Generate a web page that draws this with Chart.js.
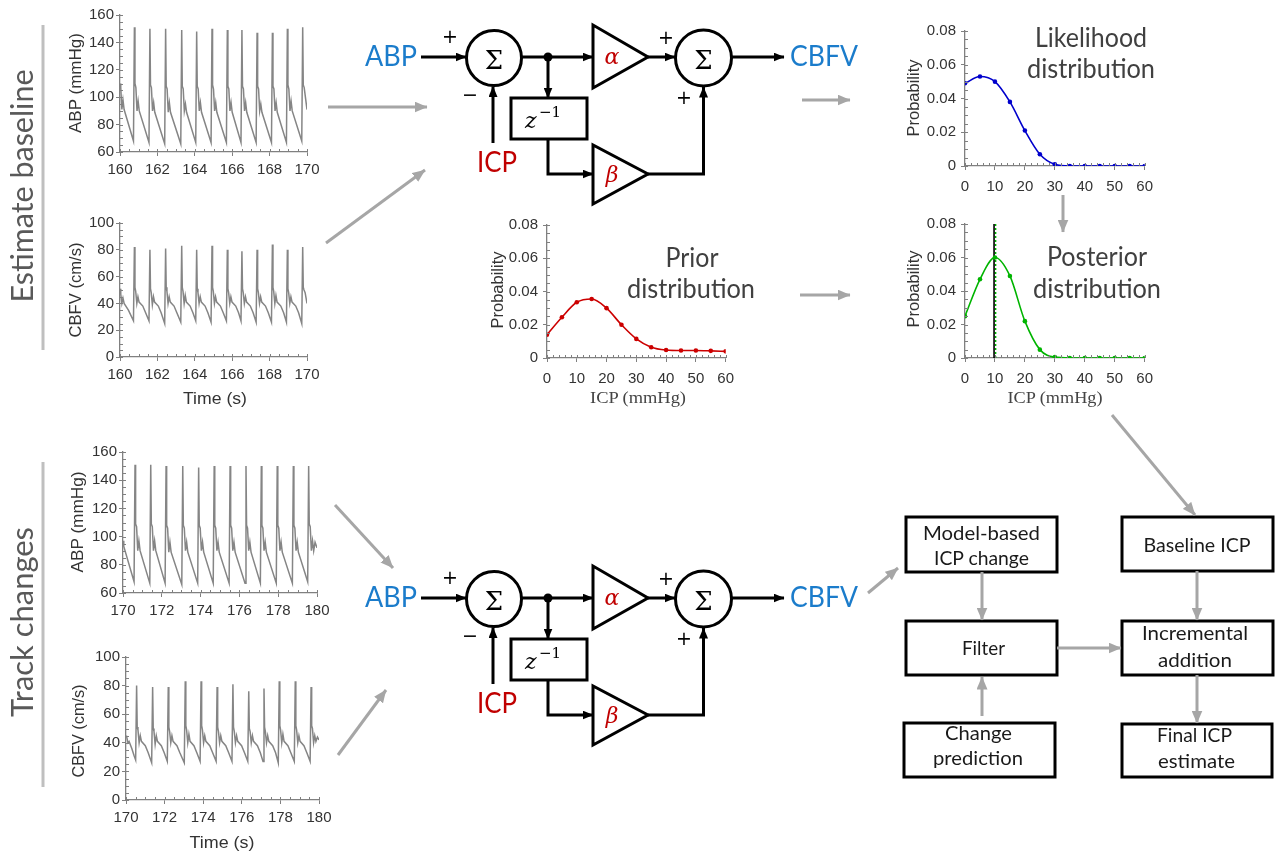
<!DOCTYPE html>
<html><head><meta charset="utf-8">
<script src="https://cdn.jsdelivr.net/npm/chart.js@4.4.0/dist/chart.umd.min.js"></script>
<style>
html,body{margin:0;padding:0;background:#fff}
body{width:1278px;height:854px;position:relative;overflow:hidden}
canvas{position:absolute}
#ov{position:absolute;left:0;top:0;z-index:5}
.blue{font-family:Lato,sans-serif;font-size:29px;fill:#1b7ccb}
.redt{font-family:Lato,sans-serif;font-size:29px;fill:#c00000}
.sig{font-family:'DejaVu Serif',serif;font-size:26px;fill:#000;text-anchor:middle}
.pm{font-family:'DejaVu Sans',sans-serif;font-size:19px;fill:#000;text-anchor:middle;dominant-baseline:central}
.gk{font-family:'DejaVu Serif',serif;font-style:italic;font-size:22px;fill:#c00000;text-anchor:middle}
.zi{font-family:'DejaVu Serif',serif;font-style:italic;font-size:22px;fill:#000}
.zs{font-family:'DejaVu Serif',serif;font-size:15px;fill:#000}
.ax{font-family:'Liberation Sans',Arial,sans-serif;font-size:17px;fill:#333;text-anchor:middle;dominant-baseline:central}
.axs{font-family:'Liberation Serif','DejaVu Serif',serif;font-size:16px;fill:#444;text-anchor:middle}
.big{font-family:Lato,sans-serif;font-size:26px;fill:#404040;text-anchor:middle}
.side{font-family:Lato,sans-serif;font-size:31px;fill:#595959;text-anchor:middle}
.box{font-family:Lato,sans-serif;font-size:20px;fill:#1a1a1a;text-anchor:middle}
</style></head>
<body>
<canvas id="a1"></canvas><canvas id="c1"></canvas>
<canvas id="a2"></canvas><canvas id="c2"></canvas>
<canvas id="lk"></canvas><canvas id="pr"></canvas><canvas id="po"></canvas>
<svg id="ov" width="1278" height="854" xmlns="http://www.w3.org/2000/svg"></svg>
<script>
// ---------------- DATA ----------------
const abpTop = [[160.00,110],[160.04,107],[160.10,91],[160.16,98],[160.22,91],[160.72,68],
[160.77,151],[160.80,110],[160.85,107],[160.91,90],[160.97,97],[161.03,90],[161.55,67],
[161.60,150],[161.63,109],[161.68,107],[161.74,90],[161.80,96],[161.86,89],[162.39,66],
[162.44,150],[162.47,108],[162.52,106],[162.58,89],[162.64,96],[162.70,89],[163.25,66],
[163.30,149],[163.33,108],[163.38,106],[163.44,90],[163.50,95],[163.56,89],[164.05,67],
[164.10,148],[164.13,108],[164.18,106],[164.24,90],[164.30,96],[164.36,89],[164.87,67],
[164.92,150],[164.95,109],[165.00,106],[165.06,90],[165.12,96],[165.18,89],[165.69,67],
[165.74,149],[165.77,108],[165.82,106],[165.88,90],[165.94,96],[166.00,89],[166.47,67],
[166.52,149],[166.55,108],[166.60,106],[166.66,90],[166.72,96],[166.78,89],[167.28,67],
[167.33,147],[167.36,108],[167.41,106],[167.47,90],[167.53,95],[167.59,89],[168.10,67],
[168.15,147],[168.18,108],[168.23,106],[168.29,90],[168.35,96],[168.41,89],[168.90,67],
[168.95,150],[168.98,109],[169.03,106],[169.09,90],[169.15,97],[169.21,90],[169.72,68],
[169.77,151],[169.80,109],[169.85,107],[170.00,91]];

const cbfvTop = [[160.00,51],[160.04,47],[160.10,40],[160.16,44],[160.22,40],[160.45,35],[160.72,27],
[160.77,82],[160.80,52],[160.84,49],[160.90,40],[160.96,45],[161.02,41],[161.22,38],[161.37,33],[161.55,27],
[161.60,80],[161.63,51],[161.67,48],[161.73,39],[161.79,45],[161.85,41],[162.05,38],[162.20,33],[162.39,25],
[162.44,81],[162.47,52],[162.51,49],[162.57,40],[162.63,45],[162.69,41],[162.89,38],[163.04,33],[163.25,26],
[163.30,83],[163.33,52],[163.37,49],[163.43,40],[163.49,46],[163.55,41],[163.75,38],[163.90,33],[164.05,27],
[164.10,80],[164.13,51],[164.17,48],[164.23,40],[164.29,45],[164.35,41],[164.55,38],[164.70,33],[164.87,26],
[164.92,83],[164.95,52],[164.99,49],[165.05,40],[165.11,45],[165.17,41],[165.37,38],[165.52,33],[165.69,27],
[165.74,80],[165.77,51],[165.81,48],[165.87,40],[165.93,45],[165.99,41],[166.19,38],[166.34,33],[166.47,27],
[166.52,79],[166.55,51],[166.59,48],[166.65,40],[166.71,45],[166.77,41],[166.97,38],[167.12,33],[167.28,26],
[167.33,80],[167.36,51],[167.40,48],[167.46,40],[167.52,45],[167.58,41],[167.78,38],[167.93,33],[168.10,26],
[168.15,84],[168.18,52],[168.22,49],[168.28,40],[168.34,46],[168.40,41],[168.60,38],[168.75,33],[168.90,26],
[168.95,80],[168.98,51],[169.02,48],[169.08,40],[169.14,45],[169.20,41],[169.40,38],[169.55,33],[169.72,25],
[169.77,82],[169.80,52],[169.84,50],[169.90,48],[170.00,40]];

const abpBottom = [[170.00,97],[170.04,93],[170.57,68],
[170.62,151],[170.65,109],[170.70,107],[170.76,90],[170.82,97],[170.88,90],[171.38,67],
[171.43,151],[171.46,109],[171.51,107],[171.57,90],[171.63,97],[171.69,90],[172.17,67],
[172.22,150],[172.25,108],[172.30,106],[172.36,89],[172.42,96],[172.48,89],[173.03,66],
[173.08,150],[173.11,108],[173.16,106],[173.22,90],[173.28,96],[173.34,89],[173.85,67],
[173.90,149],[173.93,108],[173.98,106],[174.04,90],[174.10,96],[174.16,89],[174.65,67],
[174.70,150],[174.73,108],[174.78,106],[174.84,90],[174.90,96],[174.96,89],[175.47,67],
[175.52,150],[175.55,108],[175.60,106],[175.66,90],[175.72,96],[175.78,89],[176.29,67],
[176.34,150],[176.37,108],[176.42,106],[176.48,90],[176.54,96],[176.60,89],[177.08,67],
[177.13,150],[177.16,108],[177.21,106],[177.27,90],[177.33,96],[177.39,89],[177.90,67],
[177.95,150],[177.98,108],[178.03,106],[178.09,90],[178.15,96],[178.21,89],[178.73,67],
[178.78,150],[178.81,108],[178.86,106],[178.92,90],[178.98,96],[179.04,89],[179.52,68],
[179.57,150],[179.60,109],[179.65,107],[179.71,90],[179.77,97],[179.83,90],[179.90,96],[180.00,92]];

const cbfvBottom = [[170.00,45],[170.04,44],[170.10,40],[170.16,41],[170.30,36],[170.42,31],[170.50,28],
[170.55,80],[170.58,51],[170.62,49],[170.68,40],[170.74,45],[170.80,41],[171.00,38],[171.15,33],[171.33,26],
[171.38,79],[171.41,50],[171.45,48],[171.51,39],[171.57,45],[171.63,41],[171.83,38],[171.98,33],[172.14,27],
[172.19,79],[172.22,51],[172.26,48],[172.32,40],[172.38,45],[172.44,41],[172.64,38],[172.79,33],[173.02,26],
[173.07,83],[173.10,52],[173.14,49],[173.20,40],[173.26,46],[173.32,41],[173.52,38],[173.67,33],[173.84,27],
[173.89,83],[173.92,52],[173.96,49],[174.02,40],[174.08,45],[174.14,41],[174.34,38],[174.49,33],[174.67,27],
[174.72,79],[174.75,51],[174.79,48],[174.85,40],[174.91,45],[174.97,41],[175.17,38],[175.32,33],[175.49,27],
[175.54,81],[175.57,51],[175.61,48],[175.67,40],[175.73,45],[175.79,41],[175.99,38],[176.14,33],[176.31,27],
[176.36,76],[176.39,50],[176.43,48],[176.49,40],[176.55,45],[176.61,41],[176.81,38],[176.96,33],[177.10,27],
[177.15,78],[177.18,51],[177.22,48],[177.28,40],[177.34,45],[177.40,41],[177.60,38],[177.75,33],[177.89,26],
[177.94,83],[177.97,52],[178.01,49],[178.07,40],[178.13,46],[178.19,41],[178.39,38],[178.54,33],[178.72,27],
[178.77,83],[178.80,52],[178.84,49],[178.90,40],[178.96,45],[179.02,41],[179.22,38],[179.37,33],[179.54,27],
[179.59,79],[179.62,52],[179.66,50],[179.72,40],[179.78,45],[179.84,41],[179.92,44],[180.00,42]];

const icpGrid    = [0,5,10,15,20,25,30,35,40,45,50,55,60];
const likelihood = [0.049,0.053,0.050,0.038,0.021,0.007,0.001,0,0,0,0,0,0];
const prior      = [0.014,0.0245,0.0335,0.0355,0.030,0.020,0.0115,0.0065,0.0048,0.0045,0.0045,0.0043,0.004];
const posterior  = [0.025,0.047,0.060,0.049,0.022,0.005,0.0005,0,0,0,0,0,0];
const baselineIcp = 9.7;    // black marker line
const posteriorPeak = 10.2; // green dotted marker line

// ---------------- CHARTS ----------------
const FONT = "'Liberation Sans', Arial, sans-serif";
Chart.defaults.font.family = FONT;

const minorPlugin = {
  id:'minor',
  afterDraw(chart, args, o){
    const ctx = chart.ctx, xs = chart.scales.x, ys = chart.scales.y;
    ctx.save(); ctx.strokeStyle = o.color; ctx.lineWidth = 1;
    ctx.beginPath();
    for (let v = xs.min; v <= xs.max + 1e-9; v += o.x){
      const px = Math.round(xs.getPixelForValue(v)) + 0.5;
      ctx.moveTo(px, ys.bottom); ctx.lineTo(px, ys.bottom - 3);
    }
    for (let v = ys.min; v <= ys.max + 1e-12; v += o.y){
      const py = Math.round(ys.getPixelForValue(v)) + 0.5;
      ctx.moveTo(xs.left, py); ctx.lineTo(xs.left + 3, py);
    }
    ctx.stroke(); ctx.restore();
  }
};

function place(id, L, T, R, B, yW, xH, padT, padR){
  const c = document.getElementById(id);
  const w = yW + (R - L) + padR, h = padT + (B - T) + xH;
  c.width = w; c.height = h;
  c.style.left = (L - yW) + 'px'; c.style.top = (T - padT) + 'px';
  c.style.width = w + 'px'; c.style.height = h + 'px';
  return c;
}

function scale(min, max, step, fit, isX, pad, fmt){
  const s = {
    type:'linear', min, max,
    afterFit: a => { if (isX) a.height = fit; else a.width = fit; },
    ticks:{stepSize:step, autoSkip:false, maxRotation:0, minRotation:0, color:'#333',
           font:{family:FONT, size:15}, padding:pad},
    grid:{drawOnChartArea:false, drawTicks:true, tickLength:4, color:'#808080', lineWidth:1},
    border:{color:'#808080', width:1.3}
  };
  if (fmt) s.ticks.callback = fmt;
  return s;
}

function waveChart(id, box, data, xr, yr){
  const [L,T,R,B] = box;
  const c = place(id, L, T, R, B, 42, 26, 12, 18);
  new Chart(c, {
    type:'line',
    data:{datasets:[{data, borderColor:'#858585', borderWidth:1.5, pointRadius:0, tension:0, fill:false}]},
    options:{
      responsive:false, animation:false, parsing:true,
      layout:{padding:{top:12, right:18, left:0, bottom:0}},
      plugins:{legend:{display:false}, tooltip:{enabled:false}, minor:{x:0.5, y:5, color:'#808080'}},
      scales:{ x: scale(xr[0], xr[1], 2, 26, true, 5), y: scale(yr[0], yr[1], 20, 42, false, 2) }
    },
    plugins:[minorPlugin]
  });
}

waveChart('a1', [120,15,307,152], abpTop, [160,170], [60,160]);
waveChart('c1', [120,223,307,357], cbfvTop, [160,170], [0,100]);
waveChart('a2', [123,452,317,593], abpBottom, [170,180], [60,160]);
waveChart('c2', [126,657,319,800], cbfvBottom, [170,180], [0,100]);

const probFmt = v => (Math.abs(v) < 1e-9 ? '0' : v.toFixed(2));
function probChart(id, box, values, color, extra){
  const [L,T,R,B] = box;
  const c = place(id, L, T, R, B, 50, 30, 12, 14);
  const ds = [{
    data: icpGrid.map((x,i)=>({x, y: values[i]})),
    borderColor:color, backgroundColor:color, borderWidth:1.6,
    pointRadius:2.3, pointBorderWidth:0, cubicInterpolationMode:'monotone', fill:false
  }].concat(extra || []);
  new Chart(c, {
    type:'line',
    data:{datasets:ds},
    options:{
      responsive:false, animation:false,
      layout:{padding:{top:12, right:14, left:0, bottom:0}},
      plugins:{legend:{display:false}, tooltip:{enabled:false}, minor:{x:2, y:0.005, color:'#808080'}},
      scales:{ x: scale(0, 60, 10, 30, true, 8), y: scale(0, 0.08, 0.02, 50, false, 5, probFmt) }
    },
    plugins:[minorPlugin]
  });
}

probChart('lk', [965,29,1147,166], likelihood, '#0000cc');
probChart('pr', [547,223,728,358], prior, '#cc0000');
probChart('po', [965,222,1147,358], posterior, '#00b400', [
  {data:[{x:baselineIcp,y:0},{x:baselineIcp,y:0.08}], borderColor:'#000', borderWidth:1.6, pointRadius:0},
  {data:[{x:posteriorPeak,y:0},{x:posteriorPeak,y:0.08}], borderColor:'#00b400', borderWidth:1.6, borderDash:[2,2], pointRadius:0}
]);

// ---------------- DIAGRAM OVERLAY ----------------
const diag = `
 <text x="417" y="66" class="blue" text-anchor="end" textLength="52" lengthAdjust="spacingAndGlyphs">ABP</text>
 <line x1="421" y1="57" x2="466" y2="57" stroke="#000" stroke-width="3" marker-end="url(#ab)"/>
 <circle cx="494" cy="58" r="27.5" fill="none" stroke="#000" stroke-width="3"/>
 <text x="494" y="69" class="sig">Σ</text>
 <text x="450" y="36" class="pm">+</text>
 <text x="470" y="94" class="pm">−</text>
 <line x1="493" y1="143" x2="493" y2="86.5" stroke="#000" stroke-width="3" marker-end="url(#ab)"/>
 <text x="497" y="172" class="redt" text-anchor="middle" textLength="40" lengthAdjust="spacingAndGlyphs">ICP</text>
 <line x1="521.5" y1="57" x2="593" y2="57" stroke="#000" stroke-width="3" marker-end="url(#ab)"/>
 <circle cx="548" cy="57" r="4.5" fill="#000"/>
 <line x1="548" y1="57" x2="548" y2="98" stroke="#000" stroke-width="3" marker-end="url(#ab)"/>
 <rect x="511" y="98" width="76" height="41" fill="#fff" stroke="#000" stroke-width="3"/>
 <text x="525" y="128" class="zi">z</text><text x="539" y="117" class="zs">−1</text>
 <polyline points="548,139 548,174 593,174" fill="none" stroke="#000" stroke-width="3" marker-end="url(#ab)"/>
 <polygon points="593,25 593,88 648,57" fill="#fff" stroke="#000" stroke-width="3" stroke-linejoin="miter"/>
 <text x="612" y="64" class="gk">α</text>
 <polygon points="593,145 593,204 648,174" fill="#fff" stroke="#000" stroke-width="3"/>
 <text x="612" y="182" class="gk">β</text>
 <line x1="648" y1="57" x2="675" y2="57" stroke="#000" stroke-width="3" marker-end="url(#ab)"/>
 <circle cx="703.5" cy="58" r="28" fill="none" stroke="#000" stroke-width="3"/>
 <text x="703.5" y="69" class="sig">Σ</text>
 <text x="666" y="37" class="pm">+</text>
 <text x="684" y="97" class="pm">+</text>
 <polyline points="648,174 703.5,174 703.5,87" fill="none" stroke="#000" stroke-width="3" marker-end="url(#ab)"/>
 <line x1="731.5" y1="57" x2="784" y2="57" stroke="#000" stroke-width="3" marker-end="url(#ab)"/>
 <text x="790" y="66" class="blue" textLength="68" lengthAdjust="spacingAndGlyphs">CBFV</text>`;

function garrow(x1,y1,x2,y2){
  return `<line x1="${x1}" y1="${y1}" x2="${x2}" y2="${y2}" stroke="#a6a6a6" stroke-width="3" marker-end="url(#ag)"/>`;
}
function tl(x,y,cls,txt,len,extra){
  return `<text x="${x}" y="${y}" class="${cls}" textLength="${len}" lengthAdjust="spacingAndGlyphs" ${extra||''}>${txt}</text>`;
}
function vt(cx,cy,cls,txt,len){
  return `<text transform="translate(${cx},${cy}) rotate(-90)" class="${cls}" textLength="${len}" lengthAdjust="spacingAndGlyphs">${txt}</text>`;
}
function box(x,y,w,h){
  return `<rect x="${x}" y="${y}" width="${w}" height="${h}" fill="none" stroke="#000" stroke-width="3"/>`;
}

let s = `<defs>
 <marker id="ab" viewBox="0 0 11 9" refX="10.5" refY="4.5" markerWidth="11" markerHeight="9" markerUnits="userSpaceOnUse" orient="auto"><path d="M0,0 L11,4.5 L0,9 z" fill="#000"/></marker>
 <marker id="ag" viewBox="0 0 13 11" refX="12.5" refY="5.5" markerWidth="13" markerHeight="11" markerUnits="userSpaceOnUse" orient="auto"><path d="M0,0 L13,5.5 L0,11 z" fill="#a6a6a6"/></marker>
</defs>`;
s += `<g>${diag}</g><g transform="translate(0,541)">${diag}</g>`;

// side labels
s += `<line x1="43" y1="25" x2="43" y2="350" stroke="#bfbfbf" stroke-width="3"/>`;
s += `<line x1="43" y1="462" x2="43" y2="787" stroke="#bfbfbf" stroke-width="3"/>`;
s += `<text transform="translate(33,186) rotate(-90)" class="side" textLength="233" lengthAdjust="spacingAndGlyphs">Estimate baseline</text>`;
s += `<text transform="translate(33,622) rotate(-90)" class="side" textLength="190" lengthAdjust="spacingAndGlyphs">Track changes</text>`;

// axis titles
s += vt(75,83,'ax','ABP (mmHg)',100) + vt(75,290,'ax','CBFV (cm/s)',95);
s += tl(215,398,'ax','Time (s)',64);
s += vt(77,522,'ax','ABP (mmHg)',101) + vt(78,731,'ax','CBFV (cm/s)',93);
s += tl(222,842,'ax','Time (s)',65);
s += vt(913,98,'ax','Probability',77) + vt(913,289,'ax','Probability',77) + vt(497,290,'ax','Probability',77);
s += tl(638,403,'axs','ICP (mmHg)',96) + tl(1055,403,'axs','ICP (mmHg)',95);

// big labels
s += tl(1091,47,'big','Likelihood',112) + tl(1091,78,'big','distribution',128);
s += tl(692,267,'big','Prior',53) + tl(691,298,'big','distribution',128);
s += tl(1097,266,'big','Posterior',100) + tl(1097,298,'big','distribution',128);

// boxes
s += box(906,517,151,55) + tl(981.5,540,'box','Model-based',117) + tl(981.5,565,'box','ICP change',95);
s += box(1122,517,151,54) + tl(1197,552,'box','Baseline ICP',107);
s += box(906,621,151,54) + tl(983.5,655,'box','Filter',43);
s += box(1122,621,151,54) + tl(1195,640,'box','Incremental',106) + tl(1195,667,'box','addition',74);
s += box(904,723,151,54) + tl(978.5,740,'box','Change',67) + tl(978,765,'box','prediction',90);
s += box(1122,724,150,53) + tl(1194.5,742,'box','Final ICP',75) + tl(1196.5,768,'box','estimate',77);

// gray arrows
s += garrow(328,107,427,107) + garrow(326,243,425,170);
s += garrow(802,100,850,100) + garrow(800,295,850,295);
s += garrow(1063,195,1063,232) + garrow(1112,415,1195,515);
s += garrow(335,505,393,568) + garrow(338,755,386,690);
s += garrow(868,593,898,568);
s += garrow(982,572,982,620) + garrow(982,716,982,677);
s += garrow(1057,648,1121,648);
s += garrow(1197,571,1197,620) + garrow(1197,675,1197,723);

document.getElementById('ov').innerHTML = s;
</script>
</body></html>
